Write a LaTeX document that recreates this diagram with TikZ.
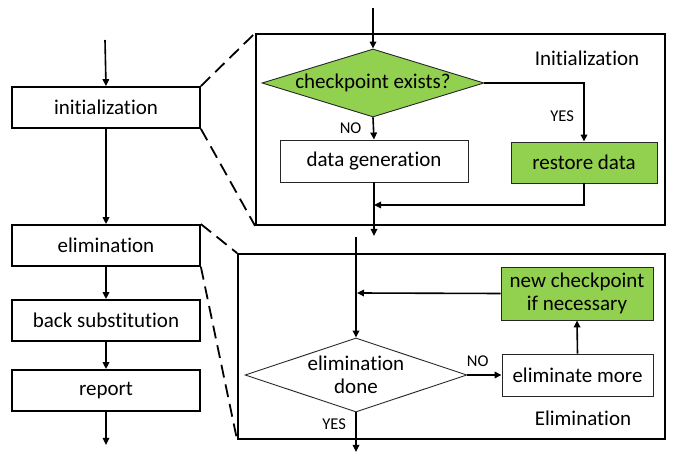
\documentclass[tikz,border=0pt]{standalone}
\usepackage{fontspec}
\setmainfont{Carlito}[Ligatures={NoCommon,NoRare,NoContextual}]
\usetikzlibrary{arrows.meta,shapes.geometric}
\definecolor{leaf}{HTML}{92D050}
\begin{document}
\begin{tikzpicture}[x=1pt,y=-1pt,
  txt/.style={font=\fontsize{21}{23}\selectfont},
  small/.style={font=\fontsize{16.5}{18}\selectfont},
  stage/.style={txt,draw,line width=1.8pt,minimum width=188pt,minimum height=41pt,inner sep=0pt},
  panel/.style={draw,line width=1.8pt},
  task/.style={txt,draw=black!85,line width=0.9pt,inner sep=0pt,align=center},
  test/.style={txt,draw=black!85,line width=0.9pt,diamond,inner sep=0pt,align=center},
  flow/.style={line width=1.6pt,-{Triangle[length=7pt,width=6.5pt]}},
  link/.style={line width=1.6pt},
  zoomline/.style={line width=1.8pt,dash pattern=on 13pt off 7pt}]
\useasboundingbox (0,0) rectangle (673,454);

% main pipeline
\coordinate (in) at (105,40);
\node[stage] (init) at (106,107.5) {initialization};
\node[stage] (elim) at (106,245.5) {elimination};
\node[stage] (back) at (106,320.5) {back substitution};
\node[stage] (rep)  at (106,390.5) {report};
\coordinate (out) at (106,445);
\draw[flow] (in) -- (init.north);
\draw[flow] (init) -- (elim);
\draw[flow] (elim) -- (back);
\draw[flow] (back) -- (rep);
\draw[flow] (rep) -- (out);

% initialization detail
\node[panel,minimum width=409pt,minimum height=191pt,inner sep=0pt] (ipanel) at (460.5,129.5) {};
\node[txt,anchor=center] (ilabel) at (587,58) {Initialization};
\node[test,fill=leaf,minimum width=222pt,minimum height=68pt,aspect=3.2] (chk) at (373,83) {checkpoint exists?};
\node[task,minimum width=188pt,minimum height=42pt] (gen) at (374,161) {data generation};
\node[task,fill=leaf,minimum width=146pt,minimum height=41pt] (rest) at (584,162.5) {restore data};
\coordinate (itop) at (373,8);
\coordinate (ijoin) at (374,205);
\coordinate (iout) at (374,236);
\draw[flow] (itop) -- (chk.north);
\draw[flow] (chk.south) -- (gen.north) node[small,pos=0.5,left=8pt] {NO};
\draw[flow] (chk.east) -| (rest.north) node[small,pos=0.78,left=6pt] {YES};
\draw[flow] (rest.south) |- (ijoin);
\draw[flow] (gen.south) -- (iout);
\draw[zoomline] (init.north east) -- (ipanel.north west);
\draw[zoomline] (init.south east) -- (ipanel.south west);

% elimination detail
\node[panel,minimum width=427pt,minimum height=185pt,inner sep=0pt] (epanel) at (451.5,346.5) {};
\node[txt] (elabel) at (583,418) {Elimination};
\node[test,minimum width=222pt,minimum height=74pt,aspect=3] (done) at (356,375) {elimination\\done};
\node[task,minimum width=151pt,minimum height=42pt] (more) at (577.5,375) {eliminate more};
\node[task,fill=leaf,minimum width=152pt,minimum height=53pt] (ckpt) at (577,293.5) {new checkpoint\\if necessary};
\coordinate (etop) at (356,237);
\coordinate (eback) at (357,293);
\coordinate (eout) at (356,452);
\draw[link] (etop) -- (356,300);
\draw[flow] (356,290) -- (done.north);
\draw[flow] (ckpt.west) -- (eback);
\draw[flow] (done.east) -- (more.west) node[small,pos=0.3,above=4pt] {NO};
\draw[flow] (more.north) -- (ckpt.south);
\draw[flow] (done.south) -- (eout) node[small,pos=0.3,left=6pt] {YES};
\draw[zoomline] (elim.north east) -- (epanel.north west);
\draw[zoomline] (elim.south east) -- (epanel.south west);
\end{tikzpicture}
\end{document}
